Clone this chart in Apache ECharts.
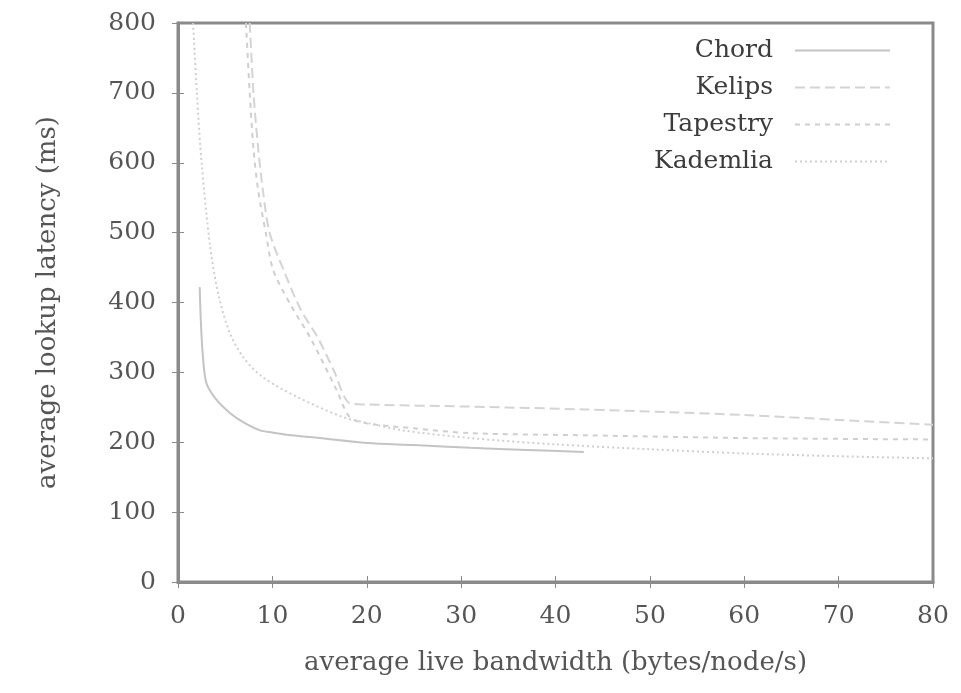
<!DOCTYPE html>
<html>
<head>
<meta charset="utf-8">
<script src="https://cdn.jsdelivr.net/npm/echarts@6/dist/echarts.min.js"></script>
<style>
html, body { margin: 0; padding: 0; background: #fff; }
#main { width: 961px; height: 693px; }
</style>
</head>
<body>
<div id="main"></div>
<script>
// values
var names = ['Chord', 'Kelips', 'Tapestry', 'Kademlia'];

var chordX = [2.3, 2.4, 2.6, 3.0, 4.0, 5.5, 7.0, 8.7, 10, 12, 15, 20, 25, 31, 37, 43];
var chordY = [422, 380, 330, 285, 262, 242, 228, 217, 214, 210, 206, 199, 196, 192, 189, 186];

var kelipsX = [7.6, 8.0, 8.5, 9.0, 9.7, 11.2, 13.0, 14.8, 16.5, 18.2, 20, 31, 43, 52, 60, 70, 80];
var kelipsY = [800, 700, 620, 560, 500, 446, 390, 350, 303, 256, 254, 251, 247, 243, 239, 232, 225];

var tapestryX = [7.2, 7.6, 8.0, 8.5, 9.3, 10.1, 12.0, 14.0, 16.8, 18.2, 20, 25, 31, 43, 60, 80];
var tapestryY = [800, 700, 620, 560, 500, 446, 395, 350, 275, 236, 227, 220, 213, 210, 206, 204];

var kademliaX = [1.6, 2.0, 2.5, 3.4, 4.3, 5.5, 7.0, 9.0, 12.6, 17.5, 20.3, 23.8, 31, 40, 50, 60, 70, 80];
var kademliaY = [800, 700, 600, 481, 410, 356, 320, 293, 265, 236, 227, 217, 206, 197, 190, 184, 180, 177];

function pairs(xs, ys) {
    var out = [];
    for (var i = 0; i < xs.length; ++i) {
        out.push([xs[i], ys[i]]);
    }
    return out;
}

var font = 'DejaVu Serif';
var axisColor = '#8a8a8a';

var myChart = echarts.init(document.getElementById('main'), null, { renderer: 'canvas' });

function lineSeries(name, xs, ys, color, dash) {
    return {
        name: name,
        type: 'line',
        symbol: 'none',
        smooth: 0.3,
        xAxisIndex: 0,
        yAxisIndex: 0,
        data: pairs(xs, ys),
        lineStyle: { color: color, width: 2, type: dash },
        itemStyle: { color: color }
    };
}

var option = {
    backgroundColor: '#fff',
    animation: false,
    grid: {
        left: 178, right: 28, top: 23, bottom: 111,
        show: true, borderColor: axisColor, borderWidth: 3
    },
    legend: {
        data: names,
        orient: 'vertical',
        align: 'right',
        right: 65,
        top: 33,
        itemWidth: 95,
        itemHeight: 10,
        itemGap: 12,
        itemStyle: { color: 'transparent', borderColor: 'transparent', borderWidth: 0 },
        textStyle: { fontFamily: font, fontSize: 25, color: '#3c3c3c', padding: [0, 17, 0, 0] }
    },
    xAxis: [{
        type: 'value',
        min: 0, max: 80, interval: 10,
        name: 'average live bandwidth (bytes/node/s)',
        nameLocation: 'middle',
        nameGap: 68,
        nameTextStyle: { fontFamily: font, fontSize: 26, color: '#555' },
        axisLine: { show: true, lineStyle: { color: axisColor, width: 3 } },
        axisTick: { show: true, inside: true, length: 6, lineStyle: { color: axisColor } },
        axisLabel: { margin: 22, fontFamily: font, fontSize: 25, color: '#555' },
        splitLine: { show: false }
    }, {
        type: 'value',
        position: 'top',
        min: 0, max: 80, interval: 10,
        axisLine: { show: false },
        axisTick: { show: true, inside: true, length: 6, lineStyle: { color: axisColor } },
        axisLabel: { show: false },
        splitLine: { show: false }
    }],
    yAxis: [{
        type: 'value',
        min: 0, max: 800, interval: 100,
        name: 'average lookup latency (ms)',
        nameLocation: 'middle',
        nameGap: 117,
        nameTextStyle: { fontFamily: font, fontSize: 26, color: '#555' },
        axisLine: { show: true, lineStyle: { color: axisColor, width: 3 } },
        axisTick: { show: true, inside: true, length: 6, lineStyle: { color: axisColor } },
        axisLabel: { margin: 22, fontFamily: font, fontSize: 25, color: '#555' },
        splitLine: { show: false }
    }, {
        type: 'value',
        position: 'right',
        min: 0, max: 800, interval: 100,
        axisLine: { show: false },
        axisTick: { show: true, inside: true, length: 6, lineStyle: { color: axisColor } },
        axisLabel: { show: false },
        splitLine: { show: false }
    }],
    series: [
        lineSeries(names[0], chordX, chordY, '#c4c4c4', 'solid'),
        lineSeries(names[1], kelipsX, kelipsY, '#d4d4d4', [10, 5]),
        lineSeries(names[2], tapestryX, tapestryY, '#cfcfcf', [5, 5]),
        lineSeries(names[3], kademliaX, kademliaY, '#d0d0d0', [2, 3])
    ]
};

myChart.setOption(option);
</script>
</body>
</html>
